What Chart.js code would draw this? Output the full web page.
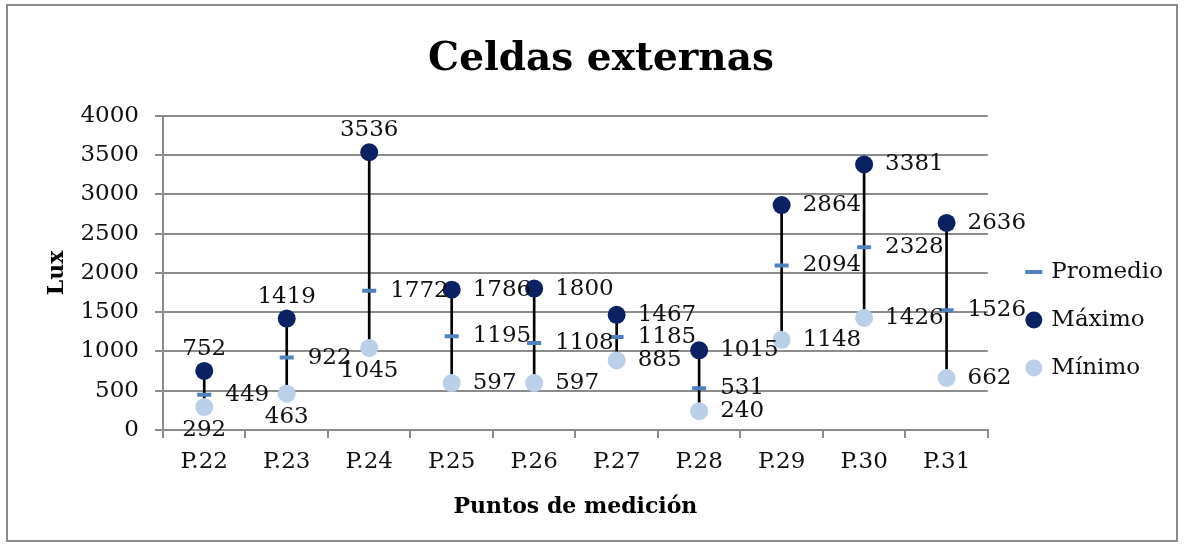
<!DOCTYPE html>
<html>
<head>
<meta charset="utf-8">
<script src="https://cdn.jsdelivr.net/npm/chart.js@4.4.1/dist/chart.umd.min.js"></script>
<style>
  html, body { margin: 0; padding: 0; background: #fff; }
  #wrap { width: 1186px; height: 546px; }
</style>
</head>
<body>
<div id="wrap"><canvas id="chart" width="1186" height="546"></canvas></div>
<script>
const categories = ["P.22","P.23","P.24","P.25","P.26","P.27","P.28","P.29","P.30","P.31"];
const promedio = [449, 922, 1772, 1195, 1108, 1185, 531, 2094, 2328, 1526];
const maximo = [752, 1419, 3536, 1786, 1800, 1467, 1015, 2864, 3381, 2636];
const minimo = [292, 463, 1045, 597, 597, 885, 240, 1148, 1426, 662];

// where each value label sits relative to its point
const promedioPos = categories.map(() => "right");
const maximoPos = ["top","top","top","right","right","right","right","right","right","right"];
const minimoPos = ["bottom","bottom","bottom","right","right","right","right","right","right","right"];

const serif = "'DejaVu Serif', 'Liberation Serif', serif";
const grey = "#8c8c8c";

const frame = {
  id: "frame",
  beforeDraw(chart) {
    const ctx = chart.ctx;
    ctx.save();
    ctx.fillStyle = "#fff";
    ctx.fillRect(0, 0, chart.width, chart.height);
    ctx.strokeStyle = grey;
    ctx.lineWidth = 2;
    ctx.strokeRect(7, 5, 1170, 536);
    ctx.restore();
  }
};

// legend sits a bit lower and further right, like the original
const legendShift = {
  id: "legendShift",
  afterLayout(chart) {
    const lg = chart.legend;
    lg.top += 40; lg.bottom += 40;
    lg.left += 15; lg.right += 15;
  }
};

const valueLabels = {
  id: "valueLabels",
  afterDatasetsDraw(chart) {
    const ctx = chart.ctx;
    ctx.save();
    ctx.font = "23px " + serif;
    ctx.fillStyle = "#111";
    chart.data.datasets.forEach((ds, di) => {
      if (!ds.labelPos) return;
      const meta = chart.getDatasetMeta(di);
      meta.data.forEach((pt, i) => {
        const text = String(ds.data[i]);
        const pos = ds.labelPos[i];
        let x = pt.x, y = pt.y;
        if (pos === "right") { ctx.textAlign = "left"; x += 21; }
        else { ctx.textAlign = "center"; y += pos === "top" ? -22 : 23; }
        ctx.textBaseline = "middle";
        ctx.fillText(text, x, y);
      });
    });
    ctx.restore();
  }
};

new Chart(document.getElementById("chart"), {
  type: "line",
  data: {
    labels: categories,
    datasets: [
      {
        type: "bar",
        label: "rango",
        data: minimo.map((v, i) => [v, maximo[i]]),
        backgroundColor: "#000",
        barThickness: 2,
        grouped: false,
        order: 10
      },
      {
        label: "Promedio",
        data: promedio,
        showLine: false,
        pointStyle: "line",
        pointRadius: 7,
        pointBorderWidth: 4,
        pointBorderColor: "#4F81BD",
        pointBackgroundColor: "#4F81BD",
        borderColor: "#4F81BD",
        labelPos: promedioPos,
        order: 1
      },
      {
        label: "Máximo",
        data: maximo,
        showLine: false,
        pointStyle: "circle",
        pointRadius: 9,
        pointBorderWidth: 0,
        pointBackgroundColor: "#0B2161",
        borderColor: "#0B2161",
        backgroundColor: "#0B2161",
        labelPos: maximoPos,
        order: 2
      },
      {
        label: "Mínimo",
        data: minimo,
        showLine: false,
        pointStyle: "circle",
        pointRadius: 9,
        pointBorderWidth: 0,
        pointBackgroundColor: "#BACFE8",
        borderColor: "#BACFE8",
        backgroundColor: "#BACFE8",
        labelPos: minimoPos,
        order: 3
      }
    ]
  },
  options: {
    responsive: false,
    animation: false,
    layout: { padding: { top: 36, left: 44, right: 28, bottom: 22 } },
    plugins: {
      title: {
        display: true,
        text: "Celdas externas",
        color: "#000",
        font: { family: serif, size: 39, weight: "bold" },
        padding: { top: 0, bottom: 33 }
      },
      legend: {
        position: "right",
        labels: {
          usePointStyle: true,
          boxWidth: 12,
          boxHeight: 12,
          padding: 25,
          color: "#111",
          font: { family: serif, size: 23 },
          filter: item => item.text !== "rango"
        }
      },
      tooltip: { enabled: false }
    },
    scales: {
      x: {
        offset: true,
        grid: { display: true, offset: true, drawOnChartArea: false, drawTicks: true, tickLength: 8, color: grey, lineWidth: 2 },
        border: { color: grey, width: 2 },
        ticks: { color: "#111", font: { family: serif, size: 23 }, padding: 10 },
        title: {
          display: true,
          text: "Puntos de medición",
          color: "#000",
          font: { family: serif, size: 22, weight: "bold" },
          padding: { top: 8 }
        }
      },
      y: {
        min: 0,
        max: 4000,
        afterFit: scale => { scale.width = 119; },
        ticks: {
          stepSize: 500,
          color: "#111",
          font: { family: serif, size: 23 },
          padding: 16,
          callback: v => String(v)
        },
        grid: { color: grey, lineWidth: 2, tickLength: 8 },
        border: { color: grey, width: 2 },
        title: {
          display: true,
          text: "Lux",
          color: "#000",
          font: { family: serif, size: 22, weight: "bold" },
          padding: { top: 0, bottom: 0 }
        }
      }
    }
  },
  plugins: [frame, legendShift, valueLabels]
});
</script>
</body>
</html>
